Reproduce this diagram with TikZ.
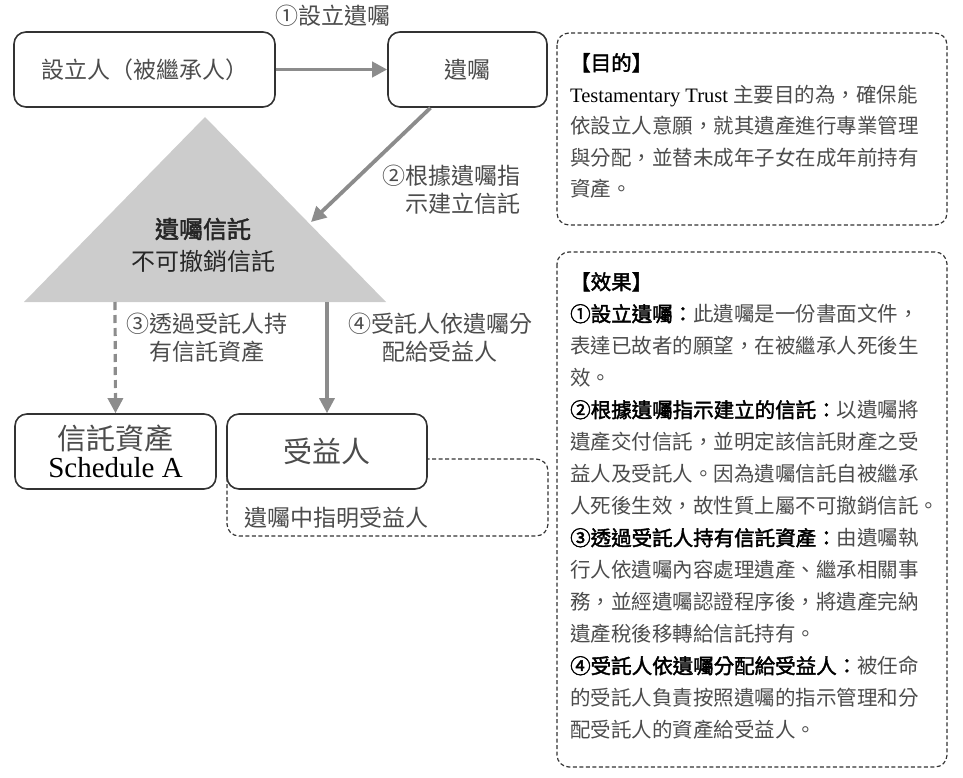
\documentclass[tikz,border=0pt]{standalone}
\usepackage{fontspec}
\setmainfont{Liberation Serif}
\newfontfamily\cjk[AutoFakeBold=2]{Noto Sans CJK TC}
\usetikzlibrary{arrows.meta}

\definecolor{boxline}{gray}{0.2}
\definecolor{txtgray}{gray}{0.3}
\definecolor{arrgray}{gray}{0.55}
\definecolor{trigray}{gray}{0.8}

\tikzset{
  box/.style={draw=boxline,line width=1.6pt,rounded corners=12pt,fill=white,
    text=txtgray,align=center,inner sep=0pt},
  notebox/.style={draw=boxline,line width=1.2pt,dash pattern=on 4pt off 2.5pt,
    rounded corners=12pt},
  flow/.style={draw=arrgray,line width=3.8pt,-{Triangle[length=15pt,width=15pt]}},
  lbl/.style={text=txtgray,font=\cjk\fontsize{23}{28}\selectfont,inner sep=0pt},
  paneltext/.style={text=txtgray,font=\cjk\fontsize{20.5}{31.5}\selectfont,
    align=left,inner sep=0pt,anchor=north west}
}

\begin{document}
\begin{tikzpicture}[x=1pt,y=-1pt]
  \useasboundingbox (0,0) rectangle (963,778);

  % triangle
  \coordinate (apex) at (205,117);
  \coordinate (baseL) at (24,302);
  \coordinate (baseR) at (386,302);
  \fill[trigray] (apex) -- (baseR) -- (baseL) -- cycle;
  \coordinate (tri2) at (311,222);
  \coordinate (tri3) at (115,302);
  \coordinate (tri4) at (327,302);
  \node[text=black!85,align=center,inner sep=0pt,
    font=\cjk\fontsize{24}{32}\selectfont] (trust) at (203,245)
    {\bfseries 遺囑信託\\不可撤銷信託};

  % note behind beneficiary
  \draw[notebox] (227,459) rectangle (548,536);
  \node[lbl] (named) at (336,518) {遺囑中指明受益人};

  \begin{scope}[every node/.style={box}]
    \node[minimum width=261pt,minimum height=75pt] (settlor) at (144.5,69.5)
      {\cjk\fontsize{23}{28}\selectfont 設立人（被繼承人）};
    \node[minimum width=159pt,minimum height=75pt] (will) at (467.5,69.5)
      {\cjk\fontsize{23}{28}\selectfont 遺囑};
    \node[minimum width=201pt,minimum height=75pt] (assets) at (115.5,451.5)
      {\cjk\fontsize{29}{33}\selectfont 信託資產\\[4pt]\fontsize{29}{33}\rmfamily\color{black} Schedule A};
    \node[minimum width=200pt,minimum height=75pt] (benef) at (327,451.5)
      {\cjk\fontsize{29}{33}\selectfont 受益人};
  \end{scope}

  % connectors
  \path (settlor) edge[flow] (will);
  \path ([xshift=-37pt]will.south) edge[flow] (tri2);
  \path (tri3) edge[flow,dash pattern=on 8pt off 5pt,line width=3.2pt] (assets.north);
  \path (tri4) edge[flow,line width=3.2pt] (benef.north);

  \begin{scope}[every node/.style={lbl}]
    \node (lbl1) at (333,16) {①設立遺囑};
    \node[align=right,anchor=east] (lbl2) at (521,190) {②根據遺囑指\\示建立信託};
    \node[align=center] (lbl3) at (207,338) {③透過受託人持\\有信託資產};
    \node[align=center] (lbl4) at (440,338) {④受託人依遺囑分\\配給受益人};
  \end{scope}

  % right panels
  \draw[notebox] (557,33) rectangle (947,225);
  \node[paneltext] (aim) at (570,53)
    {{\color{black}\bfseries【目的】}\\
     {\rmfamily\color{black}Testamentary Trust }主要目的為，確保能\\
     依設立人意願，就其遺產進行專業管理\\
     與分配，並替未成年子女在成年前持有\\
     資產。};

  \draw[notebox] (557,252) rectangle (947,767);
  \node[paneltext,font=\cjk\fontsize{20.5}{32}\selectfont] (effect) at (570,272)
    {{\color{black}\bfseries【效果】}\\
     {\color{black}\bfseries ①設立遺囑：}此遺囑是一份書面文件，\\
     表達已故者的願望，在被繼承人死後生\\
     效。\\
     {\color{black}\bfseries ②根據遺囑指示建立的信託：}以遺囑將\\
     遺產交付信託，並明定該信託財產之受\\
     益人及受託人。因為遺囑信託自被繼承\\
     人死後生效，故性質上屬不可撤銷信託。\\
     {\color{black}\bfseries ③透過受託人持有信託資產：}由遺囑執\\
     行人依遺囑內容處理遺產、繼承相關事\\
     務，並經遺囑認證程序後，將遺產完納\\
     遺產稅後移轉給信託持有。\\
     {\color{black}\bfseries ④受託人依遺囑分配給受益人：}被任命\\
     的受託人負責按照遺囑的指示管理和分\\
     配受託人的資產給受益人。};
\end{tikzpicture}
\end{document}
